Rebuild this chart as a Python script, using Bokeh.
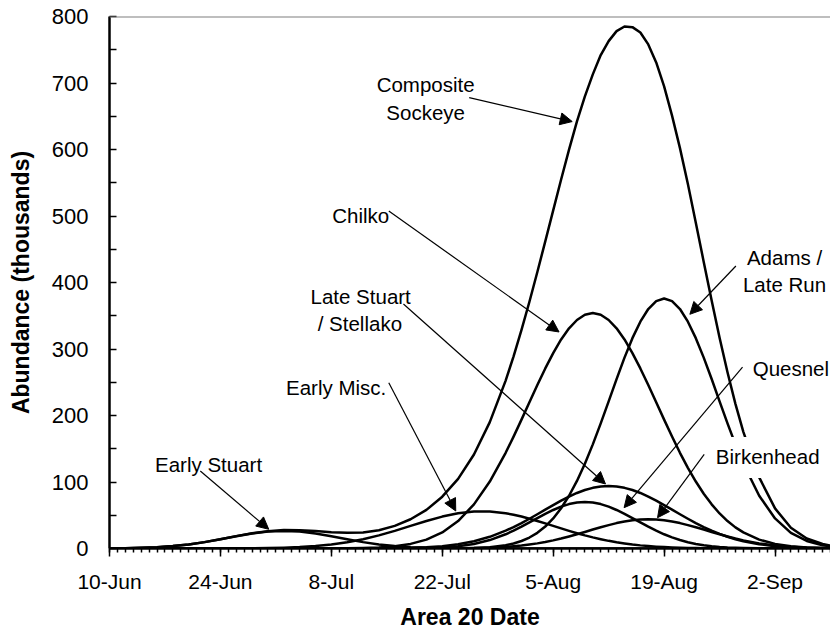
from bokeh.plotting import figure
from bokeh.models import FixedTicker, Label, Arrow, NormalHead, Span
from bokeh.embed import file_html
from bokeh.resources import INLINE

# x = days after 10-Jun (Area 20 date); daily resolution around the peaks
days = [0, 2, 4, 6, 8, 10, 12, 14, 16, 18, 20, 22, 24, 26, 28, 30, 32, 34, 36, 38,
        40, 42, 44, 46, 48,
        50, 51, 52, 53, 54, 55, 56, 57, 58, 59, 60, 61, 62, 63, 64, 65, 66, 67, 68, 69,
        70, 71, 72, 73, 74, 75, 76, 77, 78, 79, 80,
        82, 84, 86, 88, 90, 91]

tick_days = [0, 14, 28, 42, 56, 70, 84]
tick_labels = ["10-Jun", "24-Jun", "8-Jul", "22-Jul", "5-Aug", "19-Aug", "2-Sep"]

# abundance (thousands)
early_stuart = [0.2, 0.5, 1.0, 2.0, 3.6, 6.1, 9.6, 13.8, 18.4, 22.5, 25.4, 26.5, 25.4, 22.5,
                18.4, 13.8, 9.6, 6.1, 3.6, 2.0, 1.0, 0.5, 0.2, 0.1, 0,
                0, 0, 0, 0, 0, 0, 0, 0, 0, 0, 0, 0, 0, 0, 0, 0, 0, 0, 0, 0, 0, 0, 0, 0, 0,
                0, 0, 0, 0, 0, 0,
                0, 0, 0, 0, 0, 0]
early_misc = [0, 0, 0, 0, 0, 0, 0, 0, 0.2, 0.3, 0.6, 1.2, 2.1, 3.7, 6.0, 9.4, 14.0, 19.7,
              26.5, 34.0, 41.4, 48.0, 53.0, 55.7, 55.7,
              53.0, 50.7, 48.0, 44.8, 41.4, 37.7, 34.0, 30.2, 26.5, 23.0, 19.7, 16.7, 14.0,
              11.5, 9.4, 7.6, 6.0, 4.7, 3.7, 2.8, 2.1, 1.6, 1.2, 0.9, 0.6, 0.4, 0.3, 0.2,
              0.2, 0.1, 0,
              0, 0, 0, 0, 0, 0]
chilko = [0, 0, 0, 0, 0, 0, 0, 0, 0, 0, 0, 0, 0, 0, 0.1, 0.3, 0.7, 1.6, 3.4, 6.9, 13.3,
          24.2, 41.3, 66.4, 100.7,
          143.9, 168.3, 193.8, 219.9, 245.9, 270.8, 293.9, 314.3, 331.1, 343.6, 351.4,
          354.0, 351.4, 343.6, 331.1, 314.3, 293.9, 270.8, 245.9, 219.9, 193.8, 168.3,
          143.9, 121.3, 100.7, 82.4, 66.4, 52.7, 41.3, 31.8, 24.2,
          13.3, 6.9, 3.4, 1.6, 0.7, 0.4]
late_stuart = [0, 0, 0, 0, 0, 0, 0, 0, 0, 0, 0, 0, 0, 0, 0, 0, 0, 0.2, 0.4, 0.9, 1.8, 3.5,
               6.4, 11.0, 17.6,
               26.8, 32.2, 38.2, 44.7, 51.5, 58.4, 65.3, 71.9, 78.0, 83.5, 87.9, 91.2, 93.3,
               94.0, 93.3, 91.2, 87.9, 83.5, 78.0, 71.9, 65.3, 58.4, 51.5, 44.7, 38.2, 32.2,
               26.8, 21.9, 17.6, 14.0, 11.0,
               6.4, 3.5, 1.8, 0.9, 0.4, 0.3]
quesnel = [0, 0, 0, 0, 0, 0, 0, 0, 0, 0, 0, 0, 0, 0, 0, 0, 0, 0, 0.1, 0.2, 0.6, 1.5, 3.4,
           6.9, 12.7,
           21.4, 26.8, 32.8, 39.2, 45.7, 52.1, 57.9, 62.9, 66.8, 69.2, 70.0, 69.2, 66.8,
           62.9, 57.9, 52.1, 45.7, 39.2, 32.8, 26.8, 21.4, 16.7, 12.7, 9.5, 6.9, 4.9, 3.4,
           2.3, 1.5, 1.0, 0.6,
           0.2, 0.1, 0, 0, 0, 0]
adams = [0, 0, 0, 0, 0, 0, 0, 0, 0, 0, 0, 0, 0, 0, 0, 0, 0, 0, 0, 0, 0, 0.1, 0.3, 0.7, 2.0,
         5.0, 7.6, 11.3, 16.5, 23.6, 33.0, 45.2, 60.5, 79.3, 101.6, 127.5, 156.6, 188.2,
         221.3, 254.8, 287.0, 316.3, 341.1, 360.1, 371.9, 376.0, 371.9, 360.1, 341.1, 316.3,
         287.0, 254.8, 221.3, 188.2, 156.6, 127.5,
         79.3, 45.2, 23.6, 11.3, 5.0, 3.2]
birkenhead = [0, 0, 0, 0, 0, 0, 0, 0, 0, 0, 0, 0, 0, 0, 0, 0, 0, 0, 0, 0, 0, 0.1, 0.3, 0.6,
              1.3,
              2.5, 3.4, 4.5, 6.0, 7.7, 9.8, 12.2, 15.0, 18.1, 21.4, 24.9, 28.5, 31.9, 35.2,
              38.2, 40.6, 42.5, 43.6, 44.0, 43.6, 42.5, 40.6, 38.2, 35.2, 31.9, 28.5, 24.9,
              21.4, 18.1, 15.0, 12.2,
              7.7, 4.5, 2.5, 1.3, 0.6, 0.4]
composite = [0.2, 0.5, 1.0, 2.0, 3.6, 6.1, 9.6, 13.8, 18.6, 22.8, 26.0, 27.7, 27.5, 26.2,
             24.5, 23.5, 24.2, 27.5, 34.0, 44.0, 58.1, 77.9, 104.8, 141.4, 190.0,
             252.5, 289.0, 328.6, 371.1, 415.8, 461.8, 508.5, 554.8, 599.8, 642.3, 680.0,
             713.0, 742.0, 763.0, 778.0, 785.0, 784.0, 776.0, 758.0, 731.0, 695.0, 651.0,
             602.0, 548.0, 490.0, 431.0, 373.0, 317.0, 265.0, 217.5, 175.5,
             106.9, 60.3, 31.3, 15.0, 6.7, 4.3]

series = [early_stuart, early_misc, chilko, late_stuart, quesnel, adams, birkenhead, composite]

FONT = "Liberation Sans"
Y_MAX = 800

p = figure(width=830, height=632, x_range=(0, 91), y_range=(0, Y_MAX),
           output_backend="svg", toolbar_location=None,
           min_border_left=109, min_border_right=0, min_border_top=16, min_border_bottom=84)
p.xgrid.visible = False
p.ygrid.visible = False
p.outline_line_color = None
p.background_fill_color = "white"
p.border_fill_color = "white"

for s in series:
    p.line(days, s, line_color="black", line_width=2.5, line_join="round")

# top border line
p.add_layout(Span(location=Y_MAX, dimension="width", line_color="#7f7f7f", line_width=2))

# x axis
xa = p.xaxis[0]
xa.ticker = FixedTicker(ticks=tick_days, minor_ticks=list(range(0, 92)))
xa.major_label_overrides = dict(zip(tick_days, tick_labels))
xa.major_tick_in = 0
xa.major_tick_out = 8
xa.minor_tick_in = 0
xa.minor_tick_out = 4
xa.axis_line_width = 2.5
xa.major_tick_line_width = 1.5
xa.minor_tick_line_width = 1.5
xa.major_label_standoff = 13
xa.axis_label = "Area 20 Date"
xa.axis_label_standoff = 8

# y axis
ya = p.yaxis[0]
ya.ticker = FixedTicker(ticks=list(range(0, 801, 100)), minor_ticks=list(range(50, 800, 100)))
ya.major_tick_in = 7
ya.major_tick_out = 0
ya.minor_tick_in = 7
ya.minor_tick_out = 0
ya.axis_line_width = 2.5
ya.major_tick_line_width = 1.5
ya.minor_tick_line_width = 1.5
ya.major_label_standoff = 21
ya.axis_label = "Abundance (thousands)"
ya.axis_label_standoff = 15

for ax in (xa, ya):
    ax.axis_line_color = "black"
    ax.major_tick_line_color = "black"
    ax.minor_tick_line_color = "black"
    ax.major_label_text_font = FONT
    ax.major_label_text_color = "black"
    ax.axis_label_text_font = FONT
    ax.axis_label_text_font_style = "bold"
    ax.axis_label_text_font_size = "23px"
    ax.axis_label_text_color = "black"
xa.major_label_text_font_size = "21px"
ya.major_label_text_font_size = "22px"

# annotations: (text, x, y)
labels = [
    ("Composite", 39.9, 697), ("Sockeye", 39.9, 655),
    ("Chilko", 31.7, 501.5),
    ("Late Stuart", 31.7, 378.2), ("/ Stellako", 31.6, 337.6),
    ("Early Misc.", 28.6, 241.4),
    ("Early Stuart", 12.5, 125.6),
    ("Adams /", 85.2, 438.3), ("Late Run", 85.2, 397.7),
    ("Quesnel", 86.0, 270),
]
for t, x, y in labels:
    p.add_layout(Label(x=x, y=y, text=t, text_align="center", text_baseline="middle",
                       text_font=FONT, text_font_size="20.5px", text_color="black"))

p.add_layout(Label(x=83.2, y=136.8, text="Birkenhead", text_align="center",
                   text_baseline="middle", text_font=FONT, text_font_size="20.5px",
                   text_color="black", background_fill_color="white",
                   padding=(8, 10, 8, 10)))

arrows = [
    (45.4, 678, 58.4, 642),
    (35.25, 507.5, 56.74, 325.6),
    (37.1, 367.7, 62.6, 97.0),
    (35.25, 249.3, 43.7, 56.4),
    (11.46, 116.5, 20.1, 28.9),
    (79.06, 424.8, 73.25, 352.2),
    (79.9, 272.9, 64.95, 61.4),
    (75.06, 141.7, 69.17, 46.3),
]
for x0, y0, x1, y1 in arrows:
    p.add_layout(Arrow(x_start=x0, y_start=y0, x_end=x1, y_end=y1, line_color="black",
                       line_width=1.2,
                       end=NormalHead(size=12, fill_color="black", line_color="black",
                                      line_width=1)))

open("out.html", "w").write(file_html(p, INLINE))
